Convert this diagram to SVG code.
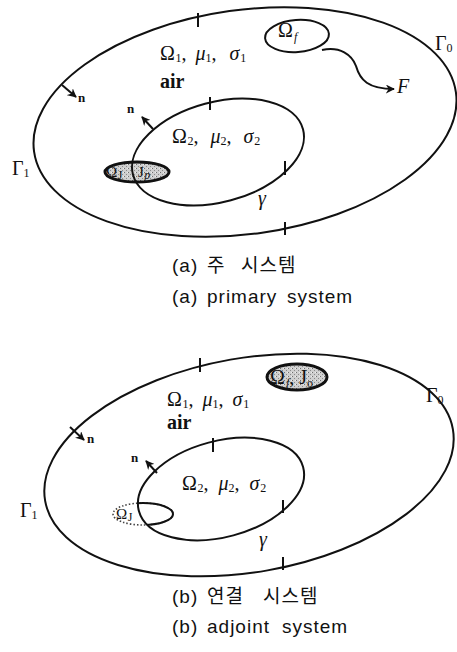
<svg xmlns="http://www.w3.org/2000/svg" width="457" height="652" viewBox="0 0 457 652">
<style>
.ln{fill:none;stroke:#111;stroke-width:2}
.tk{fill:none;stroke:#111;stroke-width:2}
.ar{fill:none;stroke:#111;stroke-width:2;marker-end:url(#ah)}
.t{font-family:"Liberation Serif",serif;fill:#111;font-size:20px}
.it{font-style:italic}
.sub{font-size:12px}
.b{font-weight:bold}
.nn{font-family:"Liberation Serif",serif;font-weight:bold;font-size:13px;fill:#111}
.cap{font-family:"Liberation Sans","Noto Sans CJK KR",sans-serif;font-size:19px;fill:#111;letter-spacing:1px}
.sm{font-size:15px}
</style>
<defs>
<marker id="ah" viewBox="0 0 10 10" refX="9" refY="5" markerWidth="9" markerHeight="9" orient="auto" markerUnits="userSpaceOnUse">
<path d="M0,0 L10,5 L0,10 L3,5 z" fill="#111"/>
</marker>
<pattern id="stip" width="4" height="4" patternUnits="userSpaceOnUse">
<rect width="4" height="4" fill="#cfcfcf"/>
<rect x="0" y="0" width="1" height="1" fill="#6f6f6f"/>
<rect x="2" y="2" width="1" height="1" fill="#8a8a8a"/>
<rect x="3" y="0" width="1" height="1" fill="#eee"/>
</pattern>
<clipPath id="clipInnerB">
<ellipse cx="221" cy="489" rx="85" ry="48" transform="rotate(-15 221 489)"/>
</clipPath>
</defs>

<!-- Panel (a) -->
<g id="outer-a">
<ellipse class="ln" cx="245" cy="122" rx="213" ry="112" transform="rotate(-8 245 122)"/>
<line class="tk" x1="198" y1="13" x2="198" y2="27"/>
<line class="tk" x1="285" y1="222" x2="285" y2="235"/>
</g>
<g id="omegaJ-a">
<ellipse cx="137" cy="172" rx="32" ry="10" fill="url(#stip)" stroke="#111" stroke-width="3"/>
<text class="t sm" x="106" y="177">Ω<tspan class="sub" dx="0.5" dy="2">J</tspan></text>
<text class="t sm" x="138" y="177">J<tspan class="sub it" dx="0.5" dy="2">p</tspan></text>
</g>
<g id="inner-a">
<ellipse class="ln" cx="218" cy="152" rx="88" ry="50" transform="rotate(-15 218 152)"/>
<line class="tk" x1="210" y1="97" x2="210" y2="110"/>
<line class="tk" x1="285" y1="161" x2="285" y2="175"/>
</g>
<g id="omegaf-a">
<ellipse class="ln" cx="297" cy="36" rx="32" ry="16" transform="rotate(-4 297 36)"/>
<text class="t" x="278" y="37" font-size="17">Ω<tspan class="sub it" dx="1" dy="4" font-size="14">f</tspan></text>
</g>

<g id="labels-a">
<text class="t" x="160" y="60">Ω<tspan class="sub" dx="0.5" dy="2">1</tspan><tspan dy="-2">,</tspan><tspan class="it" dx="9">μ</tspan><tspan class="sub" dy="2">1</tspan><tspan dy="-2">,</tspan><tspan class="it" dx="13">σ</tspan><tspan class="sub" dx="1" dy="2">1</tspan></text>
<text class="t b" x="160" y="88" font-size="17">air</text>
<text class="t" x="172" y="143">Ω<tspan class="sub" dx="0.5" dy="2">2</tspan><tspan dy="-2">,</tspan><tspan class="it" dx="12">μ</tspan><tspan class="sub" dy="2">2</tspan><tspan dy="-2">,</tspan><tspan class="it" dx="12">σ</tspan><tspan class="sub" dx="1" dy="2">2</tspan></text>
<text class="t it" x="258" y="205" font-size="16">γ</text>
<text class="t" x="12" y="175" font-size="16">Γ<tspan class="sub" dy="2">1</tspan></text>
<text class="t" x="435" y="50" font-size="16">Γ<tspan class="sub" dy="2">0</tspan></text>
<text class="t it" x="397" y="93" font-size="17">F</text>
<text class="nn" x="78" y="102">n</text>
<text class="nn" x="127" y="113">n</text>
</g>

<!-- Panel (b) -->
<g id="outer-b">
<ellipse class="ln" cx="249" cy="465" rx="207" ry="107" transform="rotate(-10 249 465)"/>
<line class="tk" x1="200" y1="358" x2="200" y2="372"/>
<line class="tk" x1="283" y1="557" x2="283" y2="570"/>
</g>
<g id="omegaf-b">
<ellipse cx="297" cy="377" rx="30" ry="13" fill="url(#stip)" stroke="#111" stroke-width="3"/>
<text class="t" x="270" y="384" font-size="15">Ω<tspan class="sub it" dx="1" dy="3">f</tspan><tspan dy="-3">,</tspan><tspan dx="5">J</tspan><tspan class="sub" dy="3">o</tspan></text>
</g>
<g id="omegaJ-b">
<ellipse cx="143" cy="514" rx="30" ry="11" fill="none" stroke="#444" stroke-width="1.6" stroke-dasharray="1.5 2"/>
<ellipse cx="143" cy="514" rx="30" ry="11" fill="none" stroke="#111" stroke-width="2" clip-path="url(#clipInnerB)"/>
<text class="t sm" x="116" y="519">Ω<tspan class="sub" dx="0.5" dy="2">J</tspan></text>
</g>
<g id="inner-b">
<ellipse class="ln" cx="221" cy="489" rx="85" ry="48" transform="rotate(-15 221 489)"/>
<line class="tk" x1="213" y1="438" x2="213" y2="452"/>
<line class="tk" x1="283" y1="500" x2="283" y2="513"/>
</g>

<g id="labels-b">
<text class="t" x="167" y="406">Ω<tspan class="sub" dx="0.5" dy="2">1</tspan><tspan dy="-2">,</tspan><tspan class="it" dx="9">μ</tspan><tspan class="sub" dy="2">1</tspan><tspan dy="-2">,</tspan><tspan class="it" dx="9">σ</tspan><tspan class="sub" dx="1" dy="2">1</tspan></text>
<text class="t b" x="167" y="429" font-size="17">air</text>
<text class="t" x="182" y="490">Ω<tspan class="sub" dx="0.5" dy="2">2</tspan><tspan dy="-2">,</tspan><tspan class="it" dx="10">μ</tspan><tspan class="sub" dy="2">2</tspan><tspan dy="-2">,</tspan><tspan class="it" dx="10">σ</tspan><tspan class="sub" dx="1" dy="2">2</tspan></text>
<text class="t it" x="259" y="546" font-size="16">γ</text>
<text class="t" x="20" y="517" font-size="16">Γ<tspan class="sub" dy="2">1</tspan></text>
<text class="t" x="426" y="402" font-size="16">Γ<tspan class="sub" dy="2">0</tspan></text>
<text class="nn" x="87" y="443">n</text>
<text class="nn" x="131" y="462">n</text>
</g>

<g id="connectors">
<path class="ar" d="M322,50 C340,46 352,55 356,66 C360,80 368,89 394,89"/>
<line class="ar" x1="62" y1="85" x2="76" y2="97"/>
<line class="ar" x1="153" y1="129" x2="142" y2="117"/>
<line class="ar" x1="70" y1="427" x2="84" y2="440"/>
<line class="ar" x1="157" y1="473" x2="146" y2="461"/>
</g>

<g id="captions">
<text class="cap" x="172" y="272">(a)<tspan x="207">주</tspan><tspan x="241">시스템</tspan></text>
<text class="cap" x="172" y="303">(a)<tspan x="207">primary</tspan><tspan x="287">system</tspan></text>
<text class="cap" x="172" y="603">(b)<tspan x="207">연결</tspan><tspan x="263">시스템</tspan></text>
<text class="cap" x="172" y="633">(b)<tspan x="207">adjoint</tspan><tspan x="282">system</tspan></text>
</g>
</svg>
